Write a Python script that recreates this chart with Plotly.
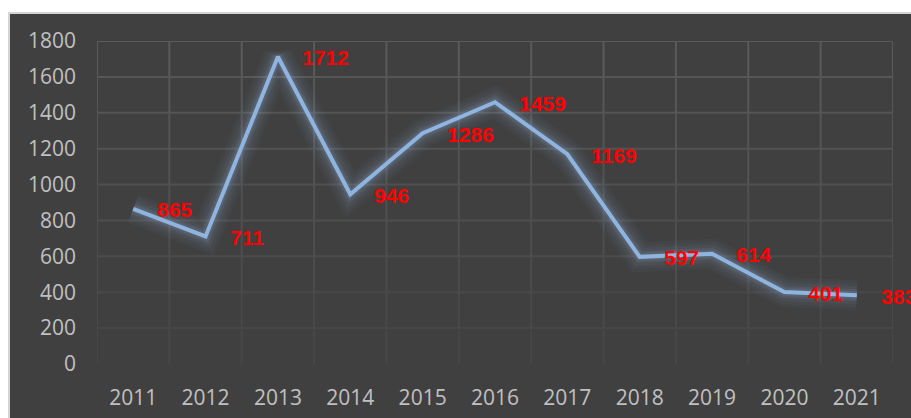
import plotly.graph_objects as go

years = ["2011", "2012", "2013", "2014", "2015", "2016", "2017", "2018", "2019", "2020", "2021"]
values = [865, 711, 1712, 946, 1286, 1459, 1169, 597, 614, 401, 383]
y_ticks = [0, 200, 400, 600, 800, 1000, 1200, 1400, 1600, 1800]

W, H = 911, 418
L, R, T, B = 97, 18, 41, 54
pw, ph = W - L - R, H - T - B

fig = go.Figure()

# glow layers
for wdt, op in [(30, 0.04), (24, 0.05), (18, 0.07), (12, 0.10), (8, 0.14)]:
    fig.add_trace(go.Scatter(x=years, y=values, mode="lines",
                             line=dict(color="#8aa6c8", width=wdt),
                             opacity=op, hoverinfo="skip", showlegend=False))
fig.add_trace(go.Scatter(x=years, y=values, mode="lines",
                         line=dict(color="#8fb4e0", width=4),
                         showlegend=False))

for i, v in enumerate(values):
    fig.add_annotation(x=i, y=v, xref="x", yref="y", text=f"<b>{v}</b>",
                       showarrow=False, xanchor="left", yanchor="middle",
                       xshift=22, yshift=-1,
                       font=dict(family="Liberation Sans", size=21, color="#ff0000"))

shapes = []
# panel background
shapes.append(dict(type="rect", xref="paper", yref="paper",
                   x0=(9 - L) / pw, x1=(W + 20 - L) / pw,
                   y0=-(H + 20 - (T + ph)) / ph, y1=(T + ph - 13) / ph,
                   fillcolor="#404040", line=dict(color="#d4d4d4", width=2),
                   layer="below"))

def grid_col(v):
    f = v / 1800.0
    lo, hi = 0x45, 0x5a
    c = int(lo + (hi - lo) * f)
    return f"#{c:02x}{c:02x}{c:02x}"

n = len(years)
for t in y_ticks[1:]:
    shapes.append(dict(type="line", xref="x", yref="y", x0=-0.5, x1=n - 0.5,
                       y0=t, y1=t, line=dict(color=grid_col(t), width=2),
                       layer="below"))
for i in range(n + 1):
    xb = i - 0.5
    for a, b in zip(y_ticks[:-1], y_ticks[1:]):
        shapes.append(dict(type="line", xref="x", yref="y", x0=xb, x1=xb,
                           y0=a, y1=b, line=dict(color=grid_col(b), width=2),
                           layer="below"))

fig.update_layout(
    width=W, height=H,
    margin=dict(l=L, r=R, t=T, b=B),
    paper_bgcolor="#ffffff",
    plot_bgcolor="rgba(0,0,0,0)",
    shapes=shapes,
    font=dict(family="Open Sans", size=21, color="#c0c0c0"),
)
fig.update_xaxes(type="category", range=[-0.5, n - 0.5], showgrid=False,
                 zeroline=False, showline=False, ticks="", automargin=False,
                 tickfont=dict(family="Open Sans", size=21, color="#c0c0c0"),
                 ticklabelstandoff=19)
fig.update_yaxes(range=[0, 1800], tickvals=y_ticks, showgrid=False,
                 zeroline=False, showline=False, ticks="", automargin=False,
                 tickfont=dict(family="Open Sans", size=21, color="#c0c0c0"),
                 ticklabelstandoff=20)

fig.write_html("out.html", config={"displayModeBar": False},
               post_script="document.body.style.margin='0';")
